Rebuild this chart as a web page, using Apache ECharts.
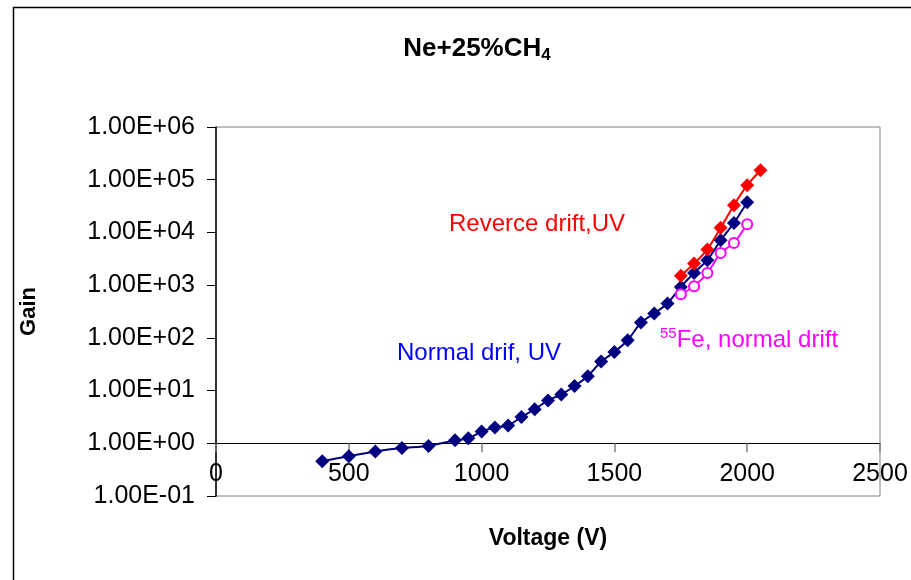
<!DOCTYPE html>
<html>
<head>
<meta charset="utf-8">
<script src="https://cdn.jsdelivr.net/npm/echarts@6/dist/echarts.min.js"></script>
<style>
  html, body { margin: 0; padding: 0; background: #fff; }
  #chart { width: 911px; height: 580px; }
</style>
</head>
<body>
<div id="chart"></div>
<script>
// Gas gain of Ne+25%CH4 versus applied voltage
const voltageNormal = [400, 500, 600, 700, 800, 900, 950, 1000, 1050, 1100, 1150, 1200, 1250, 1300,
  1350, 1400, 1450, 1500, 1550, 1600, 1650, 1700, 1750, 1800, 1850, 1900, 1950, 2000];
const gainNormal = [0.455, 0.57, 0.70, 0.81, 0.89, 1.14, 1.24, 1.67, 1.99, 2.17, 3.16, 4.42, 6.5, 8.4,
  12.2, 18.7, 35.5, 54, 90, 195, 290, 447, 925, 1700, 2970, 7100, 15100, 37400];

const voltageReverse = [1750, 1800, 1850, 1900, 1950, 2000, 2050];
const gainReverse = [1500, 2570, 4730, 12300, 32800, 78700, 151000];

const voltageFe = [1750, 1800, 1850, 1900, 1950, 2000];
const gainFe = [672, 955, 1700, 4080, 6320, 14300];

// axis ranges
const xMin = 0, xMax = 2500, xStep = 500;
const yMin = 0.1, yMax = 1e6;

const FONT = '"Liberation Sans", Arial, sans-serif';
const NAVY = '#000080', RED = '#FF0000', MAGENTA = '#FF00FF', BLUE = '#0000FF';

const W = 911, H = 580;
const grid = { left: 216, right: 31, top: 127, bottom: 84 };
const plotH = H - grid.top - grid.bottom;
// horizontal axis crosses the gain axis at 1.00E+00
const decades = Math.log10(yMax) - Math.log10(yMin);
const crossOffset = -plotH * (0 - Math.log10(yMin)) / decades;

const pairs = (xs, ys) => xs.map((x, i) => [x, ys[i]]);

function sciLabel(v) {
  const e = Math.round(Math.log10(v));
  const sign = e < 0 ? '-' : '+';
  const mag = String(Math.abs(e)).padStart(2, '0');
  return '1.00E' + sign + mag;
}

const chart = echarts.init(document.getElementById('chart'), null, { renderer: 'canvas' });

chart.setOption({
  backgroundColor: '#fff',
  animation: false,
  title: {
    text: '{a|Ne+25%CH}{b|4}',
    left: 472, top: 44, textAlign: 'center', textVerticalAlign: 'middle',
    textStyle: {
      rich: {
        a: { fontFamily: FONT, fontWeight: 'bold', fontSize: 26, color: '#000', lineHeight: 30 },
        b: { fontFamily: FONT, fontWeight: 'bold', fontSize: 17, color: '#000', verticalAlign: 'bottom' }
      }
    }
  },
  grid: Object.assign({ show: true, borderColor: '#808080', borderWidth: 1, containLabel: false }, grid),
  xAxis: {
    type: 'value', min: xMin, max: xMax, interval: xStep,
    offset: crossOffset,
    name: 'Voltage (V)', nameLocation: 'middle', nameGap: 84,
    nameTextStyle: { fontFamily: FONT, fontWeight: 'bold', fontSize: 23, color: '#000' },
    axisLine: { show: true, lineStyle: { color: '#000', width: 1 } },
    axisTick: { show: true, inside: false, length: 9, lineStyle: { color: '#808080', width: 1.5 } },
    axisLabel: { margin: 18, fontFamily: FONT, fontSize: 25, color: '#000', formatter: v => String(v) },
    splitLine: { show: false }
  },
  yAxis: {
    type: 'log', logBase: 10, min: yMin, max: yMax,
    name: 'Gain', nameLocation: 'middle', nameGap: 176, nameRotate: 90,
    nameTextStyle: { fontFamily: FONT, fontWeight: 'bold', fontSize: 22, color: '#000' },
    axisLine: { show: true, lineStyle: { color: '#000', width: 1.5 } },
    axisTick: { show: true, inside: false, length: 9, lineStyle: { color: '#000', width: 1 } },
    axisLabel: { margin: 21, fontFamily: FONT, fontSize: 25, color: '#000', formatter: sciLabel },
    splitLine: { show: false }
  },
  series: [
    {
      name: 'Normal drif, UV', type: 'line', data: pairs(voltageNormal, gainNormal),
      smooth: 0.2, symbol: 'diamond', symbolSize: 14,
      itemStyle: { color: NAVY }, lineStyle: { color: NAVY, width: 2 }, z: 2
    },
    {
      name: 'Reverce drift,UV', type: 'line', data: pairs(voltageReverse, gainReverse),
      smooth: 0.2, symbol: 'diamond', symbolSize: 14,
      itemStyle: { color: RED }, lineStyle: { color: RED, width: 2 }, z: 3
    },
    {
      name: '55Fe, normal drift', type: 'line', data: pairs(voltageFe, gainFe),
      smooth: 0.2, symbol: 'circle', symbolSize: 10,
      itemStyle: { color: '#fff', borderColor: MAGENTA, borderWidth: 2 },
      lineStyle: { color: MAGENTA, width: 2 }, z: 4
    }
  ],
  graphic: [
    {
      type: 'rect', silent: true, z: 0,
      shape: { x: 13.5, y: 7.5, width: 1000, height: 1000 },
      style: { fill: null, stroke: '#000', lineWidth: 1.5 }
    },
    {
      type: 'text', left: 449, top: 212,
      style: { text: 'Reverce drift,UV', fill: RED, font: '24px ' + FONT }
    },
    {
      type: 'text', left: 397, top: 341,
      style: { text: 'Normal drif, UV', fill: BLUE, font: '24px ' + FONT }
    },
    {
      type: 'text', left: 660, top: 326,
      style: {
        text: '{s|55}{m|Fe, normal drift}',
        rich: {
          s: { fontFamily: FONT, fontSize: 15, fill: MAGENTA, verticalAlign: 'top' },
          m: { fontFamily: FONT, fontSize: 24, fill: MAGENTA, lineHeight: 28 }
        }
      }
    }
  ]
});
</script>
</body>
</html>
